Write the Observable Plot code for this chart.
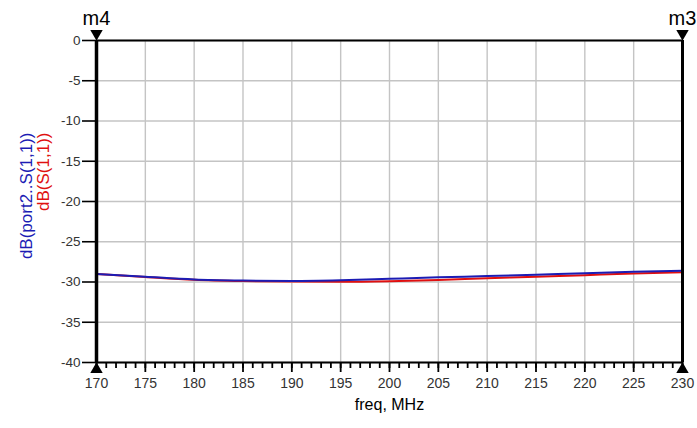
<!DOCTYPE html>
<html><head><meta charset="utf-8">
<script src="https://cdn.jsdelivr.net/npm/d3@7"></script>
<script src="https://cdn.jsdelivr.net/npm/@observablehq/plot@0.6"></script>
<style>html,body{margin:0;padding:0;background:#fff;}</style>
</head><body><div id="chart"></div>
<script>
const freq = [170, 175, 180, 185, 190, 195, 200, 205, 210, 215, 220, 225, 230];
const port2S11 = [-29.0, -29.35, -29.68, -29.82, -29.87, -29.78, -29.6, -29.42, -29.27, -29.1, -28.9, -28.73, -28.6];
const s11 = [-29.0, -29.38, -29.72, -29.88, -29.95, -29.97, -29.9, -29.75, -29.53, -29.35, -29.15, -28.95, -28.8];
const xTicks = [170, 175, 180, 185, 190, 195, 200, 205, 210, 215, 220, 225, 230];
const xMinorTicks = [170,171,172,173,174,175,176,177,178,179,180,181,182,183,184,185,186,187,188,189,190,191,192,193,194,195,196,197,198,199,200,201,202,203,204,205,206,207,208,209,210,211,212,213,214,215,216,217,218,219,220,221,222,223,224,225,226,227,228,229,230];
const yTicks = [0, -5, -10, -15, -20, -25, -30, -35, -40];
const markerNames = ["m4", "m3"];
const markerFreqs = [170, 230];

const blueData = freq.map((f, i) => ({f, v: port2S11[i]}));
const redData = freq.map((f, i) => ({f, v: s11[i]}));
const markers = markerNames.map((name, i) => ({name, f: markerFreqs[i]}));

const font = "'Liberation Sans', Arial, sans-serif";
const blue = "#1c1cb4";
const red = "#e01010";

const chart = Plot.plot({
  width: 697,
  height: 428,
  marginLeft: 96,
  marginRight: 15,
  marginTop: 40,
  marginBottom: 66,
  style: {fontFamily: font, fontSize: "13px", background: "#fff", color: "#000"},
  x: {domain: [170, 230], label: null},
  y: {domain: [-40, 0], label: null},
  marks: [
    Plot.ruleX(xTicks, {stroke: "#c4c4c4", strokeWidth: 1.4}),
    Plot.ruleY(yTicks, {stroke: "#c4c4c4", strokeWidth: 1.4}),
    Plot.line(redData, {x: "f", y: "v", stroke: red, strokeWidth: 2, curve: "monotone-x"}),
    Plot.line(blueData, {x: "f", y: "v", stroke: blue, strokeWidth: 2, curve: "monotone-x"}),
    Plot.ruleY([0], {stroke: "#000", strokeWidth: 2}),
    Plot.ruleY([-40], {stroke: "#000", strokeWidth: 2}),
    Plot.ruleX([170], {stroke: "#000", strokeWidth: 3.5}),
    Plot.ruleX([230], {stroke: "#000", strokeWidth: 3}),
    Plot.axisY(yTicks, {tickSize: 14, stroke: "#000", strokeWidth: 1.6, text: null}),
    Plot.axisY(yTicks, {tickSize: 0, tickPadding: 16, fill: "#333", tickFormat: d => String(d), fontSize: 13.5}),
    Plot.axisX(xMinorTicks, {tickSize: 6, stroke: "#000", strokeWidth: 1.8, text: null}),
    Plot.axisX(xTicks, {tickSize: 10, stroke: "#000", strokeWidth: 1.8, text: null}),
    Plot.axisX(xTicks, {tickSize: 0, tickPadding: 16, fill: "#333", tickFormat: d => String(d), fontSize: 14}),
    Plot.dot(markers, {x: "f", y: () => 0, symbol: "triangle", r: 4.6, rotate: 180, fill: "#000", stroke: null, dy: -7}),
    Plot.dot(markers, {x: "f", y: () => -40, symbol: "triangle", r: 4.6, fill: "#000", stroke: null, dy: 7}),
    Plot.text(markers, {x: "f", y: () => 0, text: "name", dy: -22, fontSize: 20, fill: "#000"}),
    Plot.text(["freq, MHz"], {frameAnchor: "bottom", dy: 47, fontSize: 16, fill: "#000"}),
    Plot.text(["dB(port2..S(1,1))"], {frameAnchor: "top-left", dx: -77, dy: 92, rotate: -90, textAnchor: "end", fontSize: 17, fill: blue}),
    Plot.text(["dB(S(1,1))"], {frameAnchor: "top-left", dx: -60, dy: 92, rotate: -90, textAnchor: "end", fontSize: 17, fill: red})
  ]
});
document.getElementById("chart").appendChild(chart);
</script>
</body></html>
